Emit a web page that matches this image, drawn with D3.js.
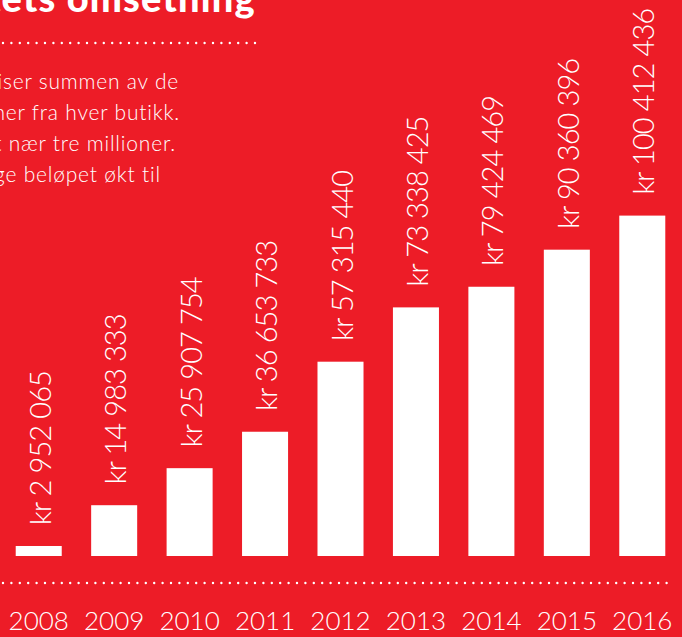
<!DOCTYPE html>
<html>
<head>
<meta charset="utf-8">
<script src="https://cdn.jsdelivr.net/npm/d3@7"></script>
<style>
  body { margin: 0; background: #ed1c27; overflow: hidden; }
  svg { display: block; }
  text { fill: #fff; font-family: Lato, "Open Sans", sans-serif; }
</style>
</head>
<body>
<svg id="chart" width="682" height="637"></svg>
<script>
// data
const years = ["2008", "2009", "2010", "2011", "2012", "2013", "2014", "2015", "2016"];
const revenue = [2952065, 14983333, 25907754, 36653733, 57315440, 73338425, 79424469, 90360396, 100412436];
const title = "Konseptets omsetning";
const intro = [
    "Grafen viser summen av de",
    "samlede transaksjoner fra hver butikk.",
    "Første år var det nær tre millioner.",
    "Åtte år senere hadde det årlige beløpet økt til"
];

const W = 682, H = 637;
const svg = d3.select("#chart");

svg.append("rect").attr("width", W).attr("height", H).attr("fill", "#ed1c27");

let x = d3.scaleBand()
    .domain(years)
    .range([1, 680])
    .paddingInner(0.39)
    .paddingOuter(0.195);

let y = d3.scaleLinear()
    .domain([0, 100000000])
    .range([556, 217]);

let nok = d3.formatLocale({decimal: ",", thousands: " ", grouping: [3], currency: ["kr ", ""]});
let fmt = nok.format("$,");

// title + intro (cut off on the left like the original page)
svg.append("text")
    .attr("x", 256)
    .attr("y", 12)
    .attr("text-anchor", "end")
    .attr("font-size", 38)
    .attr("font-weight", 900)
    .attr("letter-spacing", 1.2)
    .text(title);

let dotted = (x1, x2, yy) => {
    svg.append("line")
        .attr("x1", x1).attr("x2", x2)
        .attr("y1", yy).attr("y2", yy)
        .attr("stroke", "#fff")
        .attr("stroke-width", 2.4)
        .attr("stroke-linecap", "round")
        .attr("stroke-dasharray", "0 8.4");
};
dotted(3, 258, 43);

const introRight = [179, 180, 176, 161];
svg.selectAll("text.intro").data(intro).enter().append("text")
    .attr("class", "intro")
    .attr("x", (d, i) => introRight[i])
    .attr("y", (d, i) => 89 + i * 31)
    .attr("text-anchor", "end")
    .attr("font-size", 21)
    .attr("font-weight", 300)
    .attr("letter-spacing", 0.8)
    .text(d => d);

// bars
let data = years.map((yr, i) => ({year: yr, value: revenue[i]}));

svg.selectAll("rect.bar").data(data).enter().append("rect")
    .attr("class", "bar")
    .attr("x", d => x(d.year))
    .attr("y", d => y(d.value))
    .attr("width", x.bandwidth())
    .attr("height", d => y(0) - y(d.value))
    .attr("fill", "#fff");

svg.selectAll("text.val").data(data).enter().append("text")
    .attr("class", "val")
    .attr("transform", d => "translate(" + (x(d.year) + x.bandwidth() / 2 + 12) + "," + (y(d.value) - 21) + ") rotate(-90)")
    .attr("font-size", 29)
    .attr("font-weight", 300)
    .attr("letter-spacing", -0.9)
    .text(d => fmt(d.value));

dotted(3, 667, 583);

// year axis
let xAxis = d3.axisBottom(x).tickSize(0).tickPadding(0);
let gx = svg.append("g")
    .attr("transform", "translate(0,611)")
    .call(xAxis);
gx.select(".domain").remove();
gx.selectAll("text")
    .attr("fill", "#fff")
    .attr("font-size", 26)
    .attr("font-weight", 300)
    .attr("font-family", "Lato, 'Open Sans', sans-serif")
    .attr("dy", "0.72em");
</script>
</body>
</html>
